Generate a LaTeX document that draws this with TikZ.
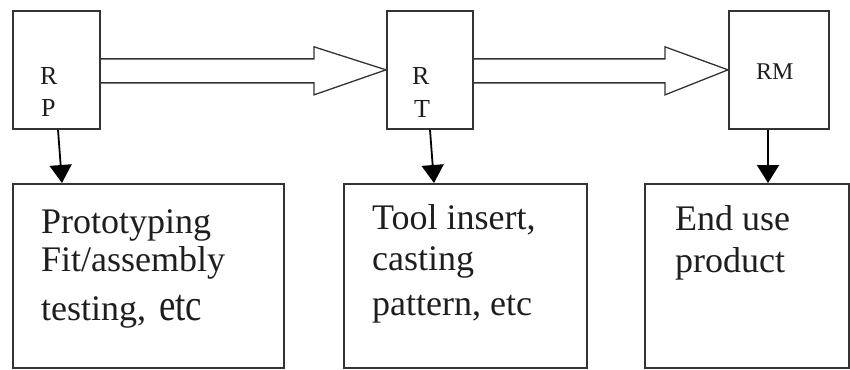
\documentclass[tikz,border=0pt]{standalone}
\usepackage{fontspec}
\setmainfont{Liberation Serif}
\usetikzlibrary{calc,arrows.meta}
\definecolor{ink}{HTML}{333333}
\definecolor{txt}{HTML}{1E1E1E}
\begin{document}
\begin{tikzpicture}[x=1pt,y=-1pt,
  box/.style={draw=ink, line width=1.7pt, inner sep=0pt, anchor=north west},
  tag/.style={text=txt, inner sep=0pt, anchor=base west, font=\fontsize{26}{28}\selectfont},
  body/.style={text=txt, inner sep=0pt, anchor=base west, font=\fontsize{36}{40}\selectfont},
  flow/.style={draw=ink, line width=1.3pt, line join=miter},
  drop/.style={draw=black, line width=1.8pt, -{Triangle[width=22pt,length=18pt]}}]
\useasboundingbox (0,0) rectangle (850,369);

% stage boxes
\node[box, minimum width=87pt, minimum height=118pt] (rp) at (12,10) {};
\node[box, minimum width=86pt, minimum height=118pt] (rt) at (386,10) {};
\node[box, minimum width=100pt, minimum height=118pt] (rm) at (728,10) {};

% application boxes
\node[box, minimum width=271pt, minimum height=184pt] (b1) at (12,183) {};
\node[box, minimum width=243pt, minimum height=184pt] (b2) at (343,183) {};
\node[box, minimum width=204pt, minimum height=184pt] (b3) at (644,183) {};

% stage labels
\node[tag] (rp1) at (40,84) {R};
\node[tag] (rp2) at (41,116) {P};
\node[tag] (rt1) at (412,84) {R};
\node[tag] (rt2) at (414,117) {T};
\node[tag, font=\fontsize{24}{28}\selectfont] (rm1) at (756,79) {RM};

% application texts
\node[body] (t11) at (41,233) {Prototyping};
\node[body] (t12) at (41,271) {Fit/assembly};
\node[body] (t13) at (41,320) {testing, \hspace{4pt}\scalebox{0.82}[1]{\fontsize{45}{48}\selectfont etc}};
\node[body] (t21) at (372,229) {Tool insert,};
\node[body] (t22) at (372,270) {casting};
\node[body] (t23) at (372,315) {pattern, etc};
\node[body] (t31) at (675,230) {End use};
\node[body] (t32) at (675,272) {product};

% hollow block arrows between stages
\draw[flow] ($(rp.east)+(0,-11)$) -- ($(rt.west)+(-72,-11)$) -- ($(rt.west)+(-72,-23)$)
  -- (rt.west) -- ($(rt.west)+(-72,25)$) -- ($(rt.west)+(-72,13)$) -- ($(rp.east)+(0,13)$);
\draw[flow] ($(rt.east)+(0,-11)$) -- ($(rm.west)+(-63,-11)$) -- ($(rm.west)+(-63,-23)$)
  -- (rm.west) -- ($(rm.west)+(-63,25)$) -- ($(rm.west)+(-63,13)$) -- ($(rt.east)+(0,13)$);

% arrows down to applications
\draw[drop] ($(rp.south west)+(46,0)$) -- ($(b1.north west)+(50,0)$);
\draw[drop] ($(rt.south west)+(44,0)$) -- ($(b2.north west)+(91,0)$);
\draw[drop] ($(rm.south west)+(40,0)$) -- ($(b3.north west)+(124,0)$);
\end{tikzpicture}
\end{document}
